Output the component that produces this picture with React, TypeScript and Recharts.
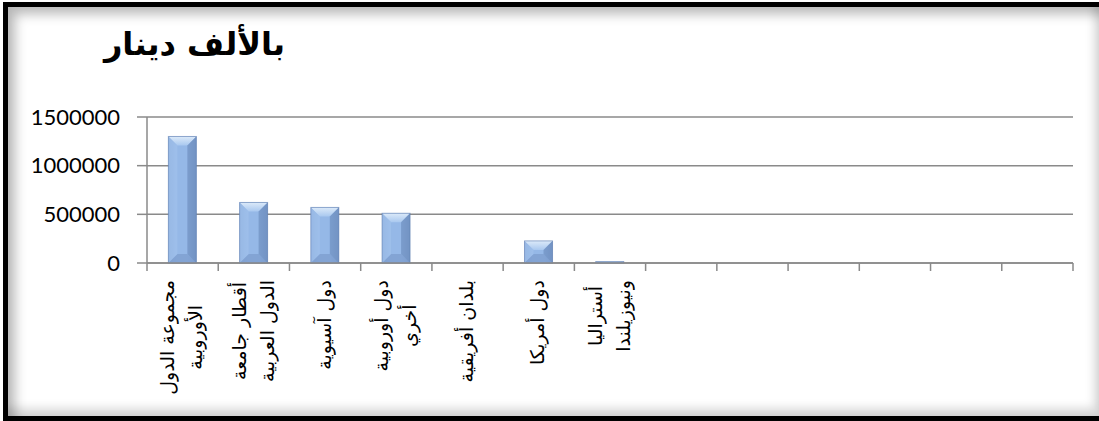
import React from 'react';
import { BarChart, Bar, XAxis, YAxis, CartesianGrid } from 'recharts';

// region names, one entry per line of the rotated label
const tickLabels: string[][] = [
  ['مجموعة الدول', 'الأوروبية'],
  ['أقطار جامعة', 'الدول العربية'],
  ['دول آسيوية'],
  ['دول أوروبية', 'أخري'],
  ['بلدان أفريقية'],
  ['دول أمريكا'],
  ['أستراليا', 'ونيوزيلندا'],
  [], [], [], [], [], [],
];

const values: (number | null)[] = [1300000, 622000, 571000, 511000, 0, 227000, 15000, null, null, null, null, null, null];

const yTicks = [0, 500000, 1000000, 1500000];

const title = 'بالألف دينار';

const data = tickLabels.map((lines, i) => ({ name: lines.join(' '), value: values[i] }));

const W = 1099;
const H = 421;
const GRID = '#8a8a8a';
const LABEL_FONT = 'DejaVu Sans';
const LABEL_SIZE = 19;
const LINE_H = 28;

let ctx: CanvasRenderingContext2D | null = null;
const measure = (s: string) => {
  if (!ctx) ctx = document.createElement('canvas').getContext('2d');
  if (!ctx) return s.length * 8;
  ctx.font = `${LABEL_SIZE}px "${LABEL_FONT}"`;
  return ctx.measureText(s).width;
};

const CatTick = (props: any) => {
  const { x, y, index, payload } = props;
  const half = payload && payload.offset ? payload.offset : 35.6;
  const lines = tickLabels[index] || [];
  const maxW = lines.reduce((m, l) => Math.max(m, measure(l)), 0);
  const cy = y + 17 + maxW / 2;
  const n = lines.length;
  return (
    <g>
      <line x1={x - half} x2={x - half} y1={y} y2={y + 8} stroke={GRID} strokeWidth={1.5} />
      {index === tickLabels.length - 1 && (
        <line x1={x + half} x2={x + half} y1={y} y2={y + 8} stroke={GRID} strokeWidth={1.5} />
      )}
      {n > 0 && (
        <g transform={`translate(${x}, ${cy}) rotate(-90)`}>
          <text textAnchor="middle" fontFamily={LABEL_FONT} fontSize={LABEL_SIZE} fill="#000">
            {lines.map((l, i) => (
              <tspan key={i} x={0} y={(i - (n - 1) / 2) * LINE_H + 0.3 * LABEL_SIZE}>{l}</tspan>
            ))}
          </text>
        </g>
      )}
    </g>
  );
};

const BevelBar = (props: any) => {
  const { x, y, width, height } = props;
  if (!height || height <= 0) return null;
  const d = Math.min(9, height / 2, width / 2);
  const r = x + width;
  const b = y + height;
  return (
    <g>
      <rect x={x} y={y} width={width} height={height} fill="url(#barBody)" />
      <polygon points={`${x},${y} ${r},${y} ${r - d},${y + d} ${x + d},${y + d}`} fill="url(#barTop)" />
      <polygon points={`${x},${b} ${r},${b} ${r - d},${b - d} ${x + d},${b - d}`} fill="#7e9fcf" opacity={0.8} />
      <polygon points={`${x},${y} ${x + d},${y + d} ${x + d},${b - d} ${x},${b}`} fill="#a4c3ec" opacity={0.6} />
      <polygon points={`${r},${y} ${r - d},${y + d} ${r - d},${b - d} ${r},${b}`} fill="#6f90c1" opacity={0.7} />
      <rect x={x} y={y} width={width} height={height} fill="none" stroke="#5d7db0" strokeOpacity={0.6} strokeWidth={1} />
    </g>
  );
};

export default function App() {
  return (
    <div style={{ position: 'absolute', left: 0, top: 0, width: W, height: H, background: '#fff', overflow: 'hidden' }}>
      <div
        style={{
          position: 'absolute',
          left: 3,
          top: 2,
          width: W - 3,
          height: H - 2,
          boxSizing: 'border-box',
          borderTop: '5px solid #000',
          borderLeft: '5px solid #000',
          borderBottom: '5px solid #000',
          boxShadow: 'inset 7px 7px 12px rgba(0,0,0,0.28), inset -5px -8px 10px rgba(0,0,0,0.15)',
        }}
      />
      <div
        style={{
          position: 'absolute',
          right: W - 285,
          top: 25,
          direction: 'rtl',
          fontFamily: 'DejaVu Sans',
          fontWeight: 'bold',
          fontSize: 32,
          whiteSpace: 'nowrap',
          color: '#000',
        }}
      >
        {title}
      </div>
      <div style={{ position: 'absolute', left: 0, top: 0 }}>
        <BarChart width={W} height={H} data={data} margin={{ top: 117, right: 26, bottom: 0, left: 0 }} barCategoryGap="30%">
          <defs>
            <linearGradient id="barBody" x1="0" y1="0" x2="1" y2="0">
              <stop offset="0%" stopColor="#86a8d8" />
              <stop offset="30%" stopColor="#95b8e7" />
              <stop offset="70%" stopColor="#95b8e7" />
              <stop offset="100%" stopColor="#7b9bcb" />
            </linearGradient>
            <linearGradient id="barTop" x1="0" y1="0" x2="0" y2="1">
              <stop offset="0%" stopColor="#dceaf9" />
              <stop offset="100%" stopColor="#a9c8ef" />
            </linearGradient>
          </defs>
          <CartesianGrid vertical={false} stroke={GRID} strokeWidth={1.5} />
          <XAxis
            dataKey="name"
            height={158}
            interval={0}
            tickLine={false}
            tickSize={0}
            tickMargin={0}
            axisLine={{ stroke: GRID, strokeWidth: 1.5 }}
            tick={<CatTick />}
          />
          <YAxis
            width={147}
            domain={[0, 1500000]}
            ticks={yTicks}
            interval={0}
            tickSize={10}
            tickMargin={17}
            tickLine={{ stroke: GRID, strokeWidth: 1.5 }}
            axisLine={{ stroke: GRID, strokeWidth: 1.5 }}
            tick={{ fill: '#000', fontFamily: 'Lato', fontSize: 22 }}
          />
          <Bar dataKey="value" shape={<BevelBar />} isAnimationActive={false} />
        </BarChart>
      </div>
    </div>
  );
}
